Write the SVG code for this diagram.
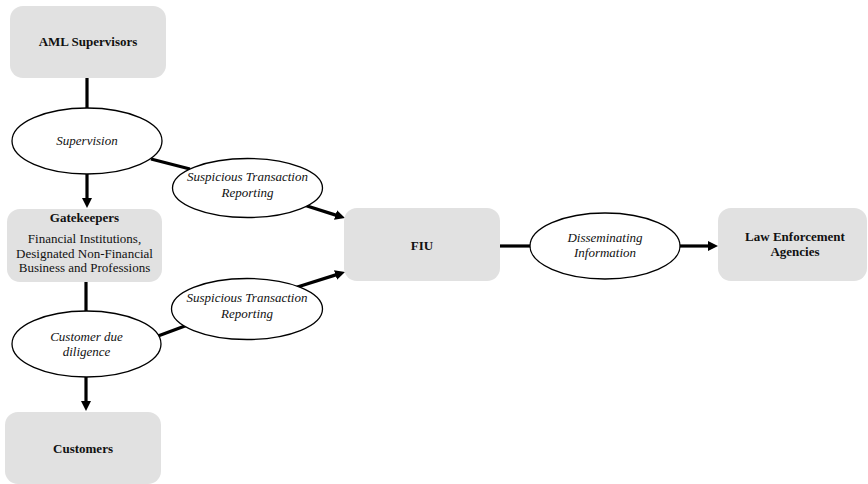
<svg xmlns="http://www.w3.org/2000/svg" width="868" height="484" viewBox="0 0 868 484">
<style>
.box{fill:#e1e1e1;stroke:none}
.ell{fill:#ffffff;stroke:#000;stroke-width:1.3}
.t{font-family:"Liberation Serif","Times New Roman",Times,serif;font-size:13px;fill:#111;text-anchor:middle}
.b{font-weight:bold}
.i{font-style:italic}
.c{stroke:#000;stroke-width:3.2;fill:none}
</style>
<defs>
<marker id="ah" viewBox="0 0 10 10" refX="2" refY="5" markerWidth="10" markerHeight="10" markerUnits="userSpaceOnUse" orient="auto">
<path d="M0,0 L10,5 L0,10 z" fill="#000"/>
</marker>
</defs>
<g id="connectors">
<line class="c" x1="87" y1="78" x2="87" y2="109"/>
<line class="c" x1="87" y1="174" x2="87" y2="200" marker-end="url(#ah)"/>
<line class="c" x1="151" y1="159" x2="190" y2="169"/>
<line class="c" x1="300" y1="203.8" x2="337.4" y2="215.6" marker-end="url(#ah)"/>
<line class="c" x1="86" y1="282" x2="86" y2="312"/>
<line class="c" x1="86" y1="377" x2="86" y2="403" marker-end="url(#ah)"/>
<line class="c" x1="158" y1="336" x2="193" y2="323"/>
<line class="c" x1="295" y1="287.8" x2="337.4" y2="274.4" marker-end="url(#ah)"/>
<line class="c" x1="500" y1="246" x2="531" y2="246"/>
<line class="c" x1="680" y1="246" x2="710" y2="246" marker-end="url(#ah)"/>
</g>
<g id="aml">
<rect class="box" x="10" y="6" width="156" height="72" rx="13"/>
<text class="t b" x="88" y="46">AML Supervisors</text>
</g>
<g id="supervision">
<ellipse class="ell" cx="87" cy="141" rx="75" ry="33"/>
<text class="t i" x="87" y="145">Supervision</text>
</g>
<g id="gatekeepers">
<rect class="box" x="7" y="209" width="155" height="73" rx="13"/>
<text class="t b" x="84.5" y="222">Gatekeepers</text>
<text class="t" x="84.5" y="243">Financial Institutions,</text>
<text class="t" x="84.5" y="258">Designated Non-Financial</text>
<text class="t" x="84.5" y="272">Business and Professions</text>
</g>
<g id="cdd">
<ellipse class="ell" cx="86.5" cy="344" rx="74.5" ry="33"/>
<text class="t i" x="86.5" y="341">Customer due</text>
<text class="t i" x="86.5" y="356">diligence</text>
</g>
<g id="customers">
<rect class="box" x="5" y="412" width="156" height="72" rx="13"/>
<text class="t b" x="83" y="453">Customers</text>
</g>
<g id="str1">
<ellipse class="ell" cx="247.5" cy="188" rx="75" ry="29.5"/>
<text class="t i" x="247.5" y="181">Suspicious Transaction</text>
<text class="t i" x="247.5" y="197">Reporting</text>
</g>
<g id="str2">
<ellipse class="ell" cx="247" cy="309" rx="75.5" ry="30.5"/>
<text class="t i" x="247" y="302">Suspicious Transaction</text>
<text class="t i" x="247" y="318">Reporting</text>
</g>
<g id="fiu">
<rect class="box" x="344" y="208" width="156" height="73" rx="13"/>
<text class="t b" x="422" y="250">FIU</text>
</g>
<g id="dissem">
<ellipse class="ell" cx="605" cy="246" rx="75" ry="33"/>
<text class="t i" x="605" y="242">Disseminating</text>
<text class="t i" x="605" y="257">Information</text>
</g>
<g id="lea">
<rect class="box" x="718" y="208" width="149" height="73" rx="13"/>
<text class="t b" x="795" y="241">Law Enforcement</text>
<text class="t b" x="795" y="256">Agencies</text>
</g>
</svg>
